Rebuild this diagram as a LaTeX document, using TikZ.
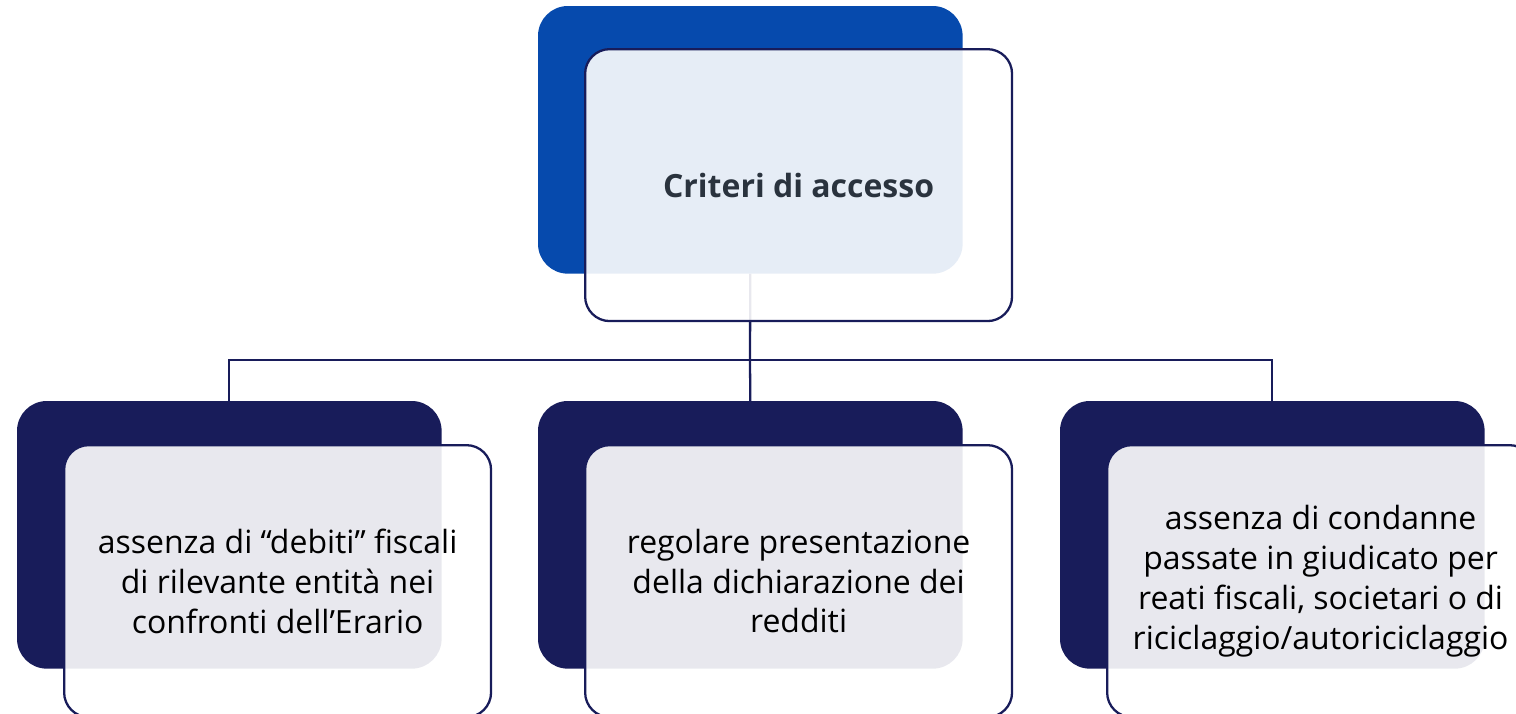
\documentclass[tikz,border=0pt]{standalone}
\usepackage{fontspec}
\setmainfont{Open Sans}
\usepackage{xcolor}
\usetikzlibrary{positioning}
\definecolor{topblue}{HTML}{064AAD}
\definecolor{navy}{HTML}{181C5A}
\definecolor{inkgray}{HTML}{2A333E}
\tikzstyle{back} = [rectangle, rounded corners=17pt, minimum width=8.48cm, minimum height=5.34cm, inner sep=0pt, anchor=north west]
\tikzstyle{card} = [rectangle, rounded corners=14pt, draw=navy, line width=1.3pt, fill=white, fill opacity=0.9, text opacity=1, minimum width=8.54cm, minimum height=5.44cm, anchor=north west, align=center, font=\fontsize{18.2}{22.7}\selectfont]
\tikzstyle{link} = [draw=navy, line width=1.3pt]

\begin{document}
\begin{tikzpicture}[x=0.02cm, y=-0.02cm]
\useasboundingbox (0,0) rectangle (1516,714);
% connectors first, boxes on top
\coordinate (bar) at (750,360);
\node[back] (b0) at (538,6) {};
\node[back] (b1) at (17,401) {};
\node[back] (b2) at (538,401) {};
\node[back] (b3) at (1060,401) {};
\draw[link] (b0.south) -- (bar);
\draw[link] (bar) -| (b1.north);
\draw[link] (bar) -- (b2.north);
\draw[link] (bar) -| (b3.north);
% back boxes
\fill[topblue, rounded corners=17pt] (b0.north west) rectangle (b0.south east);
\foreach \b in {b1,b2,b3}
    \fill[navy, rounded corners=17pt] (\b.north west) rectangle (\b.south east);
% front cards
\node[card, text=inkgray, font=\fontsize{18.2}{22.7}\bfseries] (c0)
    at ([shift={(46,42)}]b0.north west) {Criteri di accesso};
\node[card] (c1) at ([shift={(46,43)}]b1.north west)
    {assenza di “debiti” fiscali\\di rilevante entità nei\\confronti dell’Erario};
\node[card] (c2) at ([shift={(46,43)}]b2.north west)
    {regolare presentazione\\della dichiarazione dei\\redditi};
\node[card] (c3) at ([shift={(46,43)}]b3.north west)
    {assenza di condanne\\passate in giudicato per\\reati fiscali, societari o di\\riciclaggio/autoriciclaggio};
\end{tikzpicture}
\end{document}
